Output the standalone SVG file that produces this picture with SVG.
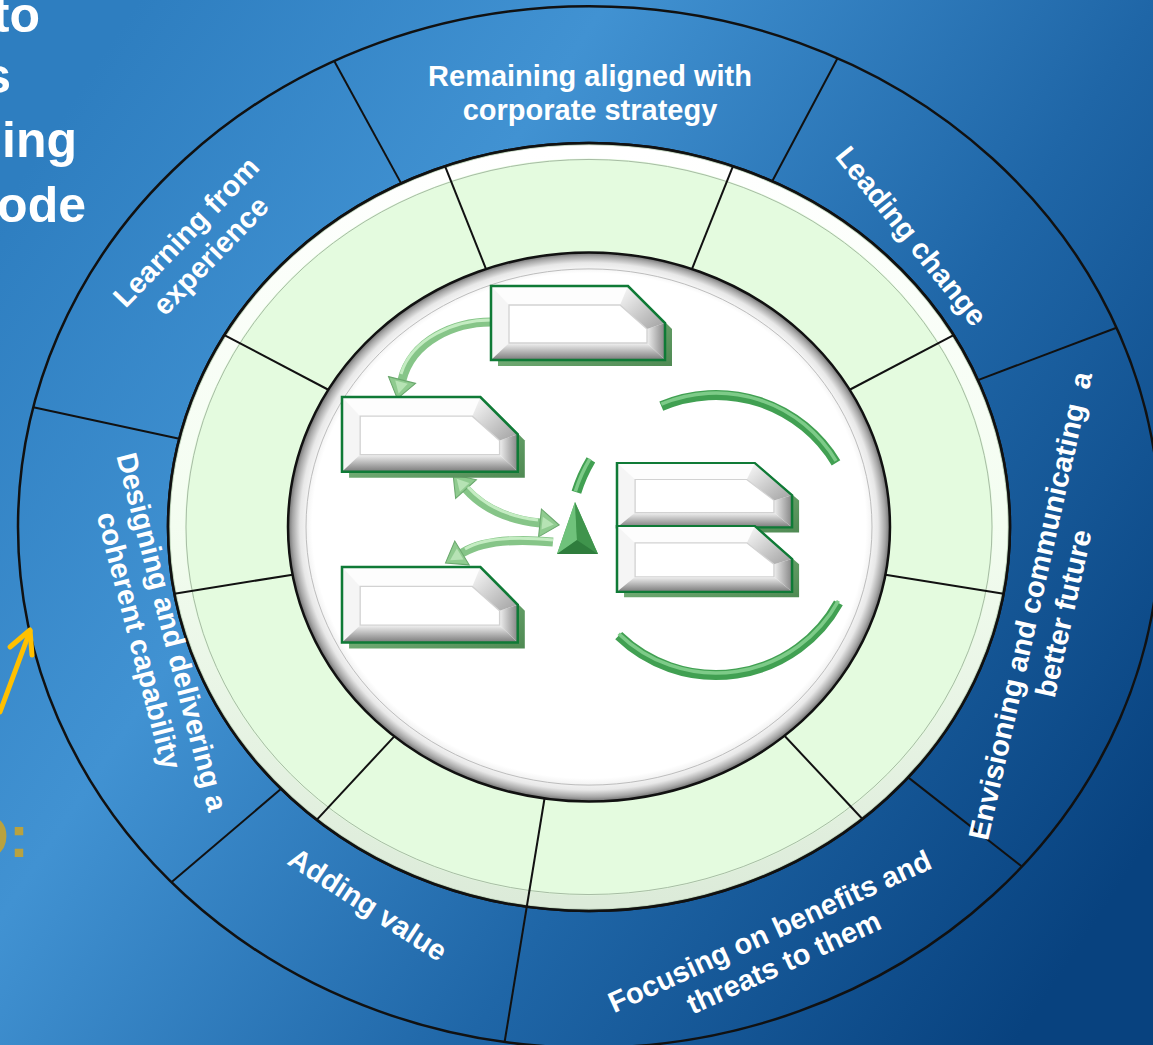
<svg xmlns="http://www.w3.org/2000/svg" xmlns:xlink="http://www.w3.org/1999/xlink" width="1153" height="1045" viewBox="0 0 1153 1045">
<style>
.lbl{font-family:"Liberation Sans",Arial,sans-serif;font-weight:bold;font-size:29px;fill:#ffffff;text-anchor:middle}
.title{font-family:"Liberation Sans",Arial,sans-serif;font-weight:bold;font-size:50px;fill:#ffffff;text-anchor:end}
.div{stroke:#111;stroke-width:2;vector-effect:non-scaling-stroke}
.edge{stroke:#111;stroke-width:2.5;vector-effect:non-scaling-stroke}
.tube{fill:none;stroke:#41a052;stroke-width:10}
.tubehi{fill:none;stroke:#7dcb88;stroke-width:3.5}
.shaft{fill:none;stroke:#86c588;stroke-width:9}
.shafthi{fill:none;stroke:#c4ecc2;stroke-width:3}
</style>
<defs>
<linearGradient id="bg" x1="0" y1="0.2" x2="1" y2="0.8">
<stop offset="0" stop-color="#2e7ec0"/>
<stop offset="0.3" stop-color="#4192d2"/>
<stop offset="0.65" stop-color="#1f66a7"/>
<stop offset="1" stop-color="#08427f"/>
</linearGradient>
<radialGradient id="disc" cx="0.5" cy="0.5" r="0.5" fx="0.5" fy="0.47">
<stop offset="0" stop-color="#ffffff"/>
<stop offset="0.92" stop-color="#ffffff"/>
<stop offset="0.96" stop-color="#e8e8e8"/>
<stop offset="0.985" stop-color="#a6a6a6"/>
<stop offset="1" stop-color="#6e6e6e"/>
</radialGradient>
<linearGradient id="band" x1="0" y1="0" x2="0" y2="1">
<stop offset="0" stop-color="#ffffff"/>
<stop offset="0.5" stop-color="#f3fdf0"/>
<stop offset="1" stop-color="#dcebd9"/>
</linearGradient>
<linearGradient id="gBot" x1="0" y1="0" x2="0" y2="1">
<stop offset="0" stop-color="#f2f2f2"/>
<stop offset="1" stop-color="#7a7a7a"/>
</linearGradient>
<linearGradient id="gRight" x1="0" y1="0" x2="1" y2="0">
<stop offset="0" stop-color="#efefef"/>
<stop offset="1" stop-color="#858585"/>
</linearGradient>
<linearGradient id="gDiag" x1="0" y1="0" x2="1" y2="1">
<stop offset="0" stop-color="#fbfbfb"/>
<stop offset="1" stop-color="#a0a0a0"/>
</linearGradient>
<linearGradient id="gShadow" x1="0" y1="0" x2="1" y2="1">
<stop offset="0" stop-color="#8cc68e"/>
<stop offset="1" stop-color="#4f8a53"/>
</linearGradient>
<g id="boxShape">
<path d="M7,6 H144 L181,43 V80 H7 Z" fill="url(#gShadow)"/>
<path d="M0,0 H137 L174,37 V74 H0 Z" fill="#ffffff"/>
<polygon points="0,0 137,0 129,19 18,19" fill="#fdfdfd"/>
<polygon points="0,0 18,19 18,57 0,74" fill="#f5f5f5"/>
<polygon points="0,74 174,74 156,57 18,57" fill="url(#gBot)"/>
<polygon points="174,37 174,74 156,57 156,43" fill="url(#gRight)"/>
<polygon points="137,0 174,37 156,43 129,19" fill="url(#gDiag)"/>
<polygon points="18,19 129,19 156,43 156,57 18,57" fill="#ffffff" stroke="#d2d2d2" stroke-width="1.3"/>
<path d="M0,0 H137 L174,37 V74 H0 Z" fill="none" stroke="#0f7a36" stroke-width="2.5"/>
</g>
<marker id="ah" markerUnits="userSpaceOnUse" markerWidth="24" markerHeight="30" viewBox="0 -14 20 28" refX="0" refY="0" orient="auto-start-reverse">
<path d="M0,-13 L18,0 L0,13 Z" fill="#8fcb8f" stroke="#6aa86d" stroke-width="1"/>
<path d="M2,-6 L13,0 L2,6 Z" fill="#b6e3b4"/>
</marker>
</defs>

<rect id="background" x="0" y="0" width="1153" height="1045" fill="url(#bg)"/>

<g id="title">
<text class="title" x="40" y="32">to</text>
<text class="title" x="11" y="93">s</text>
<text class="title" x="77" y="157">ing</text>
<text class="title" x="86" y="222">ode</text>
</g>

<g id="gold-text">
<text x="29" y="857" font-family="Liberation Sans, Arial, sans-serif" font-weight="bold" font-size="60" fill="#b9a23f" text-anchor="end">O:</text>
</g>

<g id="wheel" transform="translate(589,527) scale(1,0.912)">
<circle id="outer-ring" r="571" fill="none" class="edge" stroke-width="2"/>
<g id="green-ring">
<circle r="421" fill="#e4fbdf" class="edge"/>
<circle r="411.5" fill="none" stroke="url(#band)" stroke-width="15"/>
<circle r="403" fill="none" stroke="#a7bca4" stroke-width="1" vector-effect="non-scaling-stroke"/>
<circle r="419.5" fill="none" stroke="#9fb59c" stroke-width="1.5" vector-effect="non-scaling-stroke" opacity="0.6"/>
<circle r="421" fill="none" class="edge"/>
</g>
<g id="white-disc">
<circle r="301" fill="url(#disc)" class="edge"/>
<circle r="283" fill="none" stroke="#bdbdbd" stroke-width="1" vector-effect="non-scaling-stroke"/>
</g>
<g id="dividers">
<line class="div" x1="421" y1="0" x2="571" y2="0" transform="rotate(-116.5)"/>
<line class="div" x1="421" y1="0" x2="571" y2="0" transform="rotate(-64.2)"/>
<line class="div" x1="421" y1="0" x2="571" y2="0" transform="rotate(-22.5)"/>
<line class="div" x1="421" y1="0" x2="571" y2="0" transform="rotate(40.7)"/>
<line class="div" x1="421" y1="0" x2="571" y2="0" transform="rotate(137)"/>
<line class="div" x1="421" y1="0" x2="571" y2="0" transform="rotate(193.3)"/>
<line class="div" x1="301" y1="0" x2="571" y2="0" transform="rotate(98.5)"/>
<line class="div" x1="301" y1="0" x2="421" y2="0" transform="rotate(-110)"/>
<line class="div" x1="301" y1="0" x2="421" y2="0" transform="rotate(-70)"/>
<line class="div" x1="301" y1="0" x2="421" y2="0" transform="rotate(-30)"/>
<line class="div" x1="301" y1="0" x2="421" y2="0" transform="rotate(10)"/>
<line class="div" x1="301" y1="0" x2="421" y2="0" transform="rotate(49.5)"/>
<line class="div" x1="301" y1="0" x2="421" y2="0" transform="rotate(130.3)"/>
<line class="div" x1="301" y1="0" x2="421" y2="0" transform="rotate(170)"/>
<line class="div" x1="301" y1="0" x2="421" y2="0" transform="rotate(210)"/>
</g>
</g>

<g id="labels">
<g id="label-remaining">
<text class="lbl" x="590" y="86">Remaining aligned with</text>
<text class="lbl" x="590" y="120">corporate strategy</text>
</g>
<g id="label-leading" transform="translate(911.7,235.7) rotate(51)">
<text class="lbl" x="0" y="10.4">Leading change</text>
</g>
<g id="label-envisioning" transform="translate(1046.5,609.5) rotate(-77.4)">
<text class="lbl" x="0" y="-6.6" xml:space="preserve">Envisioning and communicating  a</text>
<text class="lbl" x="0" y="27.4">better future</text>
</g>
<g id="label-focusing" transform="translate(776.5,946.5) rotate(-24.5)">
<text class="lbl" x="0" y="-6.6">Focusing on benefits and</text>
<text class="lbl" x="0" y="27.4">threats to them</text>
</g>
<g id="label-adding" transform="translate(368,904) rotate(33)">
<text class="lbl" x="0" y="10.4">Adding value</text>
</g>
<g id="label-designing" transform="translate(156,636) rotate(75.5)">
<text class="lbl" x="0" y="-6.6">Designing and delivering a</text>
<text class="lbl" x="0" y="27.4">coherent capability</text>
</g>
<g id="label-learning" transform="translate(198,243.5) rotate(-46)">
<text class="lbl" x="0" y="-6.6">Learning from</text>
<text class="lbl" x="0" y="27.4">experience</text>
</g>
</g>

<g id="cycle-arcs">
<path class="tube" d="M661.3,406.1 A140,140 0 0 1 836,462.9"/>
<path class="tubehi" d="M661.3,406.1 A140,140 0 0 1 836,462.9" transform="translate(0,-2)"/>
<path class="tube" d="M838.4,602.9 A140,140 0 0 1 618.7,635.7"/>
<path class="tubehi" d="M838.4,602.9 A140,140 0 0 1 618.7,635.7" transform="translate(0,-2)"/>
<path class="tube" d="M576.4,492.3 A146,146 0 0 1 590.9,459.8"/>
<path class="tubehi" d="M576.4,492.3 A146,146 0 0 1 590.9,459.8" transform="translate(-1,-1)"/>
</g>

<g id="connectors">
<path class="shaft" d="M491,322 C455,322 412,340 402,380" marker-end="url(#ah)"/>
<path class="shafthi" d="M491,320 C455,320 412,338 401,374"/>
<path class="shaft" d="M466,489 Q492,518 540,523" marker-start="url(#ah)" marker-end="url(#ah)"/>
<path class="shafthi" d="M468,487 Q493,515 538,520"/>
<path class="shaft" d="M553,542 Q490,536 462,553" marker-end="url(#ah)"/>
<path class="shafthi" d="M553,540 Q490,534 465,549"/>
</g>

<g id="pyramid">
<polygon points="575,502 557,554 598,554" fill="#4ca65a"/>
<polygon points="575,502 557,554 577,540" fill="#6fc27b"/>
<polygon points="575,502 598,554 577,540" fill="#3f944c"/>
<polygon points="557,554 598,554 577,540" fill="#2f7d3d"/>
</g>

<g id="box1"><use xlink:href="#boxShape" transform="translate(491,286)"/></g>
<g id="box2"><use xlink:href="#boxShape" transform="translate(342,397) scale(1.01,1.01)"/></g>
<g id="box3"><use xlink:href="#boxShape" transform="translate(342,567) scale(1.01,1.02)"/></g>
<g id="box4"><use xlink:href="#boxShape" transform="translate(617,463) scale(1.006,0.87)"/></g>
<g id="box5"><use xlink:href="#boxShape" transform="translate(617,526) scale(1.006,0.89)"/></g>

<g id="yellow-arrow" fill="none" stroke="#ffc000" stroke-width="5" stroke-linecap="round" stroke-linejoin="round">
<line x1="0" y1="712" x2="30" y2="631"/>
<polyline points="10,647 30,630 32,655"/>
</g>
</svg>
